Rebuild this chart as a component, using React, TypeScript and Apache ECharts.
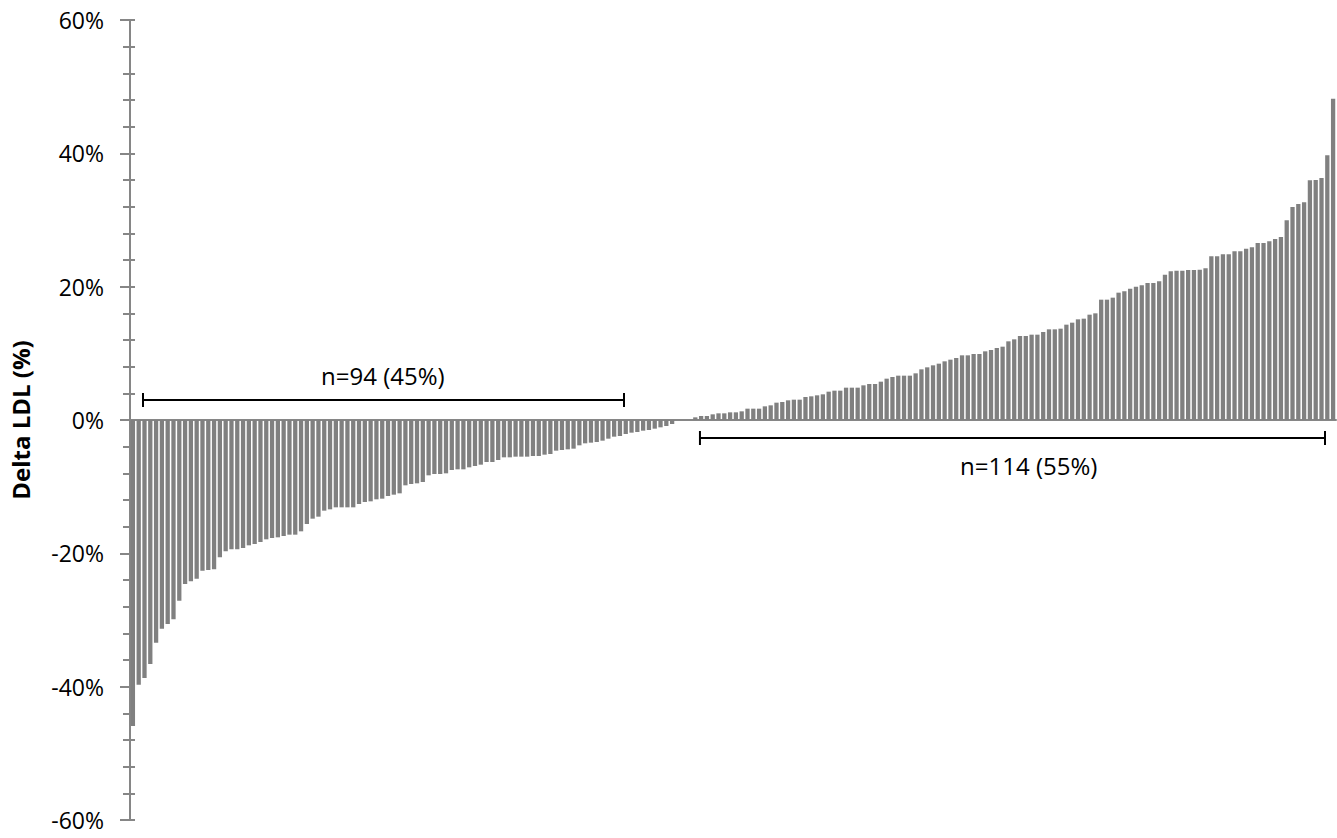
import React, { useEffect, useRef } from "react";
import * as echarts from "echarts";

// Sorted change in LDL per patient (%)
const negativeValues = [
  -45.9, -39.7, -38.7, -36.6, -33.4, -31.3, -30.6, -29.9, -27.1, -24.6,
  -24.2, -23.8, -22.6, -22.5, -22.4, -20.6, -19.7, -19.4, -19.4, -19.2,
  -18.8, -18.6, -18.3, -17.9, -17.7, -17.6, -17.4, -17.2, -17.2, -16.7,
  -15.6, -14.8, -14.5, -13.6, -13.4, -13.1, -13.1, -13.1, -13.1, -12.6,
  -12.3, -12.2, -11.9, -11.8, -11.4, -11.2, -11.0, -9.8, -9.6, -9.5,
  -9.3, -8.3, -8.1, -8.1, -8.0, -7.5, -7.4, -7.4, -7.1, -6.9,
  -6.7, -6.3, -6.3, -6.0, -5.6, -5.6, -5.5, -5.5, -5.5, -5.4,
  -5.4, -5.2, -5.1, -4.6, -4.5, -4.4, -4.3, -3.8, -3.5, -3.4,
  -3.3, -3.1, -2.8, -2.5, -2.4, -2.1, -1.9, -1.8, -1.6, -1.5,
  -1.3, -1.1, -0.9, -0.6,
];
const zeroValues = [0, 0, 0];
const positiveValues = [
  0.4, 0.6, 0.6, 0.85, 1.0, 1.0, 1.15, 1.15, 1.3, 1.7,
  1.7, 1.7, 2.05, 2.2, 2.6, 2.7, 2.95, 3.05, 3.05, 3.45,
  3.55, 3.7, 3.85, 4.25, 4.4, 4.4, 4.85, 4.85, 4.85, 5.2,
  5.4, 5.4, 5.75, 6.2, 6.45, 6.65, 6.65, 6.65, 7.0, 7.6,
  7.9, 8.2, 8.45, 8.8, 9.05, 9.3, 9.7, 9.7, 9.9, 9.9,
  10.3, 10.5, 10.8, 11.0, 11.8, 12.1, 12.6, 12.6, 12.8, 12.8,
  13.2, 13.6, 13.6, 13.7, 14.3, 14.6, 15.1, 15.2, 15.8, 16.0,
  18.05, 18.05, 18.35, 19.1, 19.3, 19.7, 20.0, 20.2, 20.55, 20.55,
  20.8, 21.8, 22.3, 22.4, 22.4, 22.5, 22.5, 22.55, 22.75, 24.55,
  24.55, 24.85, 24.85, 25.3, 25.3, 25.7, 25.9, 26.55, 26.55, 26.8,
  27.15, 27.45, 29.95, 31.95, 32.4, 32.65, 35.95, 36.0, 36.3, 39.7,
  48.2,
];
const values = [...negativeValues, ...zeroValues, ...positiveValues];
const categories = values.map((_, i) => String(i + 1));

const yMin = -60;
const yMax = 60;
const yInterval = 20;
const yTitle = "Delta LDL (%)";

// Annotation brackets, in units of category index and y value
const negLabel = "n=94 (45%)";
const posLabel = "n=114 (55%)";
const negBracket = { from: 1.74, to: 84.7, y: 3.0, textX: 43.1, textY: 6.75 };
const posBracket = { from: 97.8, to: 205.6, y: -2.7, textX: 154.5, textY: -6.75 };

const FONT = "'Open Sans', sans-serif";
const AXIS_GRAY = "#868686";

export default function App() {
  const ref = useRef<HTMLDivElement>(null);

  useEffect(() => {
    document.body.style.margin = "0";
    const chart = echarts.init(ref.current!, null, { renderer: "svg" });
    const yAxisBase = {
      type: "value" as const,
      min: yMin,
      max: yMax,
      interval: yInterval,
      position: "left" as const,
      splitLine: { show: false },
    };
    chart.setOption({
      animation: false,
      grid: { left: 130, right: 1, top: 20, bottom: 18, containLabel: false },
      xAxis: {
        type: "category",
        data: categories,
        axisLine: { show: true, onZero: true, lineStyle: { color: AXIS_GRAY, width: 2 } },
        axisTick: { show: false },
        axisLabel: { show: false },
        splitLine: { show: false },
      },
      yAxis: [
        {
          ...yAxisBase,
          name: yTitle,
          nameLocation: "middle",
          nameRotate: 90,
          nameGap: 98,
          nameTextStyle: { fontFamily: FONT, fontSize: 24, fontWeight: "bold", color: "#000" },
          axisLine: { show: true, lineStyle: { color: AXIS_GRAY, width: 2 } },
          axisTick: { show: true, inside: false, length: 10, lineStyle: { color: AXIS_GRAY, width: 2 } },
          minorTick: { show: true, splitNumber: 5, length: 7, lineStyle: { color: AXIS_GRAY, width: 2 } },
          axisLabel: {
            margin: 26,
            fontFamily: FONT,
            fontSize: 23,
            color: "#000",
            formatter: (v: number) => `${v}%`,
          },
        },
        {
          ...yAxisBase,
          axisLine: { show: false },
          axisTick: { show: true, inside: true, length: 5, lineStyle: { color: AXIS_GRAY, width: 2 } },
          minorTick: { show: true, splitNumber: 5, length: 5, lineStyle: { color: AXIS_GRAY, width: 2 } },
          axisLabel: { show: false },
        },
      ],
      series: [
        {
          type: "bar",
          data: values,
          barCategoryGap: "26%",
          itemStyle: { color: "#808080" },
        },
      ],
    });

    const toPx = (idx: number, val: number) => {
      const p0 = chart.convertToPixel({ gridIndex: 0 }, [0, val]) as number[];
      const p1 = chart.convertToPixel({ gridIndex: 0 }, [1, val]) as number[];
      const band = p1[0] - p0[0];
      return [p0[0] + idx * band, p0[1]];
    };

    const bracket = (b: typeof negBracket, label: string) => {
      const a = toPx(b.from, b.y);
      const c = toPx(b.to, b.y);
      const t = toPx(b.textX, b.textY);
      const style = { stroke: "#000", lineWidth: 2 };
      return [
        { type: "line", shape: { x1: a[0], y1: a[1], x2: c[0], y2: c[1] }, style },
        { type: "line", shape: { x1: a[0], y1: a[1] - 7, x2: a[0], y2: a[1] + 7 }, style },
        { type: "line", shape: { x1: c[0], y1: c[1] - 7, x2: c[0], y2: c[1] + 7 }, style },
        {
          type: "text",
          x: t[0],
          y: t[1],
          style: {
            text: label,
            fontFamily: FONT,
            fontSize: 24,
            fill: "#000",
            align: "center",
            verticalAlign: "middle",
          },
        },
      ];
    };

    chart.setOption({
      graphic: [...bracket(negBracket, negLabel), ...bracket(posBracket, posLabel)],
    });

    return () => chart.dispose();
  }, []);

  return <div ref={ref} style={{ width: 1337, height: 838 }} />;
}
